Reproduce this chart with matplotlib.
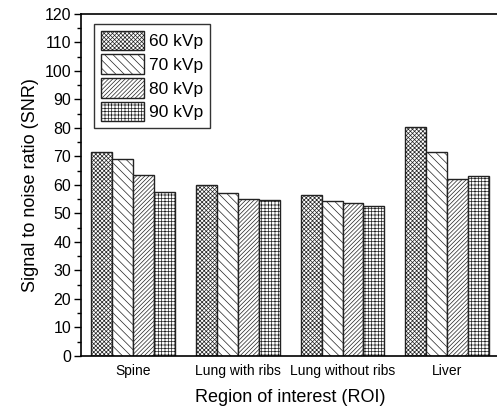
import matplotlib
matplotlib.use("Agg")
import matplotlib.pyplot as plt
import numpy as np
from matplotlib.ticker import MultipleLocator

plt.rcParams['font.family'] = ['Liberation Sans', 'DejaVu Sans']
plt.rcParams['hatch.linewidth'] = 0.5
plt.rcParams['patch.force_edgecolor'] = True
plt.rcParams['patch.edgecolor'] = '#222222'

categories = ["Spine", "Lung with ribs", "Lung without ribs", "Liver"]
series_labels = ["60 kVp", "70 kVp", "80 kVp", "90 kVp"]
snr_60 = [71.6, 60.0, 56.5, 80.5]
snr_70 = [69.0, 57.1, 54.4, 71.6]
snr_80 = [63.4, 55.2, 53.8, 62.0]
snr_90 = [57.7, 54.7, 52.6, 63.2]
series = [snr_60, snr_70, snr_80, snr_90]
hatches = ['xxxxxxxx', '\\\\\\\\', '////////', '+++++']
hatch_colors = ['#8a8a8a', '#555555', '#606060', '#777777']

fig = plt.figure(figsize=(4.97, 4.11), dpi=100)
ax = fig.add_axes([0.163, 0.134, 0.842, 0.832])

x = np.arange(len(categories))
w = 0.2
for i, (vals, lab, h, hc) in enumerate(zip(series, series_labels, hatches, hatch_colors)):
    plt.rcParams['hatch.color'] = hc
    ax.bar(x + (i - 1.5) * w, vals, width=w, facecolor='white',
           linewidth=1.0, hatch=h, label=lab)

ax.set_xlim(-0.5, 3.5)
ax.set_ylim(0, 120)
ax.yaxis.set_major_locator(MultipleLocator(10))
ax.yaxis.set_minor_locator(MultipleLocator(5))
ax.tick_params(axis='y', which='major', direction='out', length=5, width=1, labelsize=11.5, pad=2)
ax.tick_params(axis='y', which='minor', direction='out', length=3, width=1)
ax.tick_params(axis='x', length=0, labelsize=10, pad=6)
ax.set_xticks(x)
ax.set_xticklabels(categories)
for s in ax.spines.values():
    s.set_linewidth(1.2)

ax.set_ylabel("Signal to noise ratio (SNR)", fontsize=13, labelpad=4)
ax.set_xlabel("Region of interest (ROI)", fontsize=13, labelpad=8)

leg = ax.legend(loc='upper left', bbox_to_anchor=(0.03, 0.971), fontsize=12.5,
                frameon=True, fancybox=False, edgecolor='black', handlelength=2.5,
                handleheight=1.35, handletextpad=0.3, labelspacing=0.24,
                borderpad=0.4, borderaxespad=0)
leg.get_frame().set_linewidth(1.0)

fig.savefig("out.png", dpi=100)
